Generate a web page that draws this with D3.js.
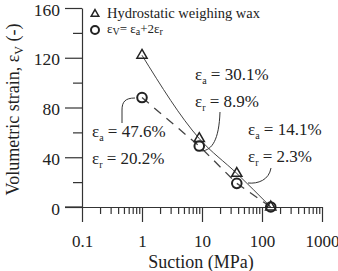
<!DOCTYPE html>
<html lang="en">
<head>
    <meta charset="UTF-8">
    <title>Suction vs volumetric strain</title>
    <script src="https://cdn.jsdelivr.net/npm/d3@7/dist/d3.min.js"></script>
    <style>
        html, body {
            margin: 0;
            padding: 0;
            width: 100%;
            height: 100%;
            overflow: hidden;
            background: #fff;
        }
        .axis path, .axis line {
            stroke: #333;
            stroke-width: 1.2px;
        }
    </style>
</head>
<body>
</body>
<script>
    // data
    let suction = [1, 9, 38, 140];
    let waxStrain = [122, 55, 27, 0];      // hydrostatic weighing wax
    let calcStrain = [88, 49, 19, 0];      // ev = ea + 2er
    let epsA = ['47.6', '30.1', '14.1'];
    let epsR = ['20.2', '8.9', '2.3'];
    let yTicks = [0, 40, 80, 120, 160];
    let yMinor = [20, 60, 100, 140];
    let xTicks = [0.1, 1, 10, 100, 1000];
    let xTickLabels = ['0.1', '1', '10', '100', '1000'];

    let width = 338;
    let height = 271;
    let serif = '"Liberation Serif", "Times New Roman", Times, serif';

    let svg = d3.select('body')
        .append('svg')
        .attr('width', width)
        .attr('height', height);

    let x = d3.scaleLog().domain([0.1, 1000]).range([82, 322]);
    let y = d3.scaleLinear().domain([0, 160]).range([207, 8]);

    // y 轴
    let yAxis = svg.append('g')
        .classed('axis', true)
        .attr('transform', `translate(${x(0.1)},0)`)
        .call(d3.axisLeft(y).tickValues(yTicks).tickSize(17).tickSizeOuter(0).tickPadding(5));
    yAxis.selectAll('text')
        .attr('dy', '0.4em')
        .style('font-size', '17.5px');
    svg.append('g')
        .classed('axis', true)
        .attr('transform', `translate(${x(0.1)},0)`)
        .call(d3.axisLeft(y).tickValues(yMinor).tickSize(9).tickFormat(''))
        .select('.domain').remove();

    // x 轴
    let xAxis = svg.append('g')
        .classed('axis', true)
        .attr('transform', `translate(0,${y(0)})`)
        .call(d3.axisBottom(x).tickValues(xTicks).tickSize(15).tickSizeOuter(0)
            .tickFormat((d, i) => xTickLabels[i]));
    xAxis.selectAll('text')
        .attr('y', 28)
        .style('font-size', '17px');

    let minor = [];
    [0.1, 1, 10, 100].forEach(dec => {
        for (let k = 2; k <= 9; k++) minor.push(dec * k);
    });
    svg.append('g')
        .classed('axis', true)
        .attr('transform', `translate(0,${y(0)})`)
        .call(d3.axisBottom(x).tickValues(minor).tickSize(7).tickFormat(''))
        .select('.domain').remove();

    // x 轴向左延伸到 0 刻度
    svg.append('line')
        .attr('x1', x(0.1) - 17).attr('x2', x(0.1))
        .attr('y1', y(0)).attr('y2', y(0))
        .attr('stroke', '#333').attr('stroke-width', 1.2);

    // 轴标题
    svg.append('text')
        .attr('x', x(10) - 1)
        .attr('y', 268)
        .attr('text-anchor', 'middle')
        .style('font-size', '18px')
        .text('Suction (MPa)');

    let yt = svg.append('text')
        .attr('transform', `translate(19,${(y(0) + y(160)) / 2 + 2}) rotate(-90)`)
        .attr('text-anchor', 'middle')
        .style('font-size', '18px');
    yt.append('tspan').text('Volumetric strain, ε');
    yt.append('tspan').attr('dy', 4).style('font-size', '12px').text('V');
    yt.append('tspan').attr('dy', -4).text(' (-)');

    // 拟合线
    let pts = suction.map((s, i) => ({s: s, w: waxStrain[i], c: calcStrain[i]}));

    svg.append('path')
        .datum(pts)
        .attr('fill', 'none')
        .attr('stroke', '#444')
        .attr('stroke-width', 1)
        .attr('d', d3.line().x(d => x(d.s)).y(d => y(d.w)).curve(d3.curveMonotoneX));

    svg.append('path')
        .datum(pts)
        .attr('fill', 'none')
        .attr('stroke', '#444')
        .attr('stroke-width', 1.3)
        .attr('stroke-dasharray', '9,7')
        .attr('d', d3.line().x(d => x(d.s)).y(d => y(d.c)));

    // 符号
    let tri = d3.symbol().type(d3.symbolTriangle).size(45);
    svg.selectAll('.tri')
        .data(pts)
        .enter().append('path')
        .classed('tri', true)
        .attr('transform', d => `translate(${x(d.s)},${y(d.w)})`)
        .attr('d', tri)
        .attr('fill', 'none')
        .attr('stroke', '#222')
        .attr('stroke-width', 1.5);

    svg.selectAll('.circ')
        .data(pts)
        .enter().append('circle')
        .classed('circ', true)
        .attr('cx', d => x(d.s))
        .attr('cy', d => y(d.c))
        .attr('r', 4.8)
        .attr('fill', 'none')
        .attr('stroke', '#222')
        .attr('stroke-width', 2);

    // 注释
    let notes = [
        {tx: 92, ty: 137, lead: 'M135,98 C125,98 122,102 122,110 L122,123'},
        {tx: 195, ty: 80, lead: 'M220,112 C219,140 212,150 202,151'},
        {tx: 248, ty: 135, lead: 'M271,168 C269,180 258,184 248,183'}
    ];

    notes.forEach((n, i) => {
        svg.append('path')
            .attr('d', n.lead)
            .attr('fill', 'none')
            .attr('stroke', '#333')
            .attr('stroke-width', 1);

        [['a', epsA[i], 0], ['r', epsR[i], 27]].forEach(row => {
            let t = svg.append('text')
                .attr('x', n.tx)
                .attr('y', n.ty + row[2])
                .style('font-size', '17px');
            t.append('tspan').text('ε');
            t.append('tspan').attr('dy', 4).style('font-size', '10px').text(row[0]);
            t.append('tspan').attr('dy', -4).text(` = ${row[1]}%`);
        });
    });

    // 图例
    svg.append('path')
        .attr('transform', 'translate(95,14)')
        .attr('d', d3.symbol().type(d3.symbolTriangle).size(25))
        .attr('fill', 'none')
        .attr('stroke', '#222')
        .attr('stroke-width', 1.5);
    svg.append('text')
        .attr('x', 107)
        .attr('y', 18)
        .style('font-size', '14.5px')
        .text('Hydrostatic weighing wax');

    svg.append('circle')
        .attr('cx', 95).attr('cy', 30).attr('r', 4)
        .attr('fill', 'none')
        .attr('stroke', '#222')
        .attr('stroke-width', 2);
    let lg = svg.append('text')
        .attr('x', 107)
        .attr('y', 33)
        .style('font-size', '13px');
    lg.append('tspan').text('ε');
    lg.append('tspan').attr('dy', 2).style('font-size', '10px').text('V');
    lg.append('tspan').attr('dy', -2).text('= ε');
    lg.append('tspan').attr('dy', 2).style('font-size', '10px').text('a');
    lg.append('tspan').attr('dy', -2).text('+2ε');
    lg.append('tspan').attr('dy', 2).style('font-size', '10px').text('r');

    // 全部文字用衬线字体
    svg.selectAll('text')
        .style('font-family', serif)
        .style('fill', '#222');
</script>
</html>
